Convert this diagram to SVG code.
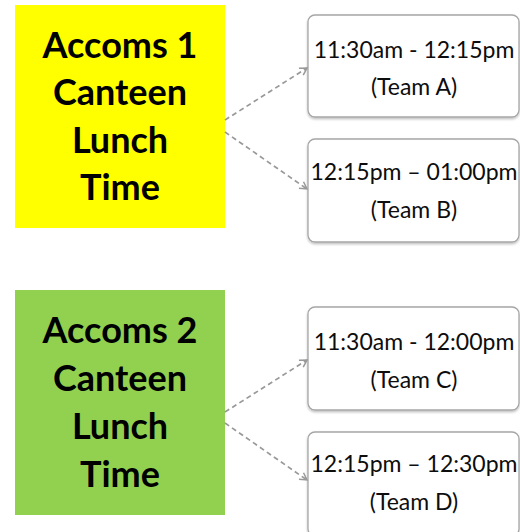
<svg xmlns="http://www.w3.org/2000/svg" width="520" height="532" viewBox="0 0 520 532">
<defs>
<marker id="arr" markerWidth="10" markerHeight="10" refX="8" refY="5" orient="auto" markerUnits="userSpaceOnUse">
<path d="M1,1 L8,5 L1,9" fill="none" stroke="#999" stroke-width="1.5"/>
</marker>
<filter id="sh" x="-5%" y="-5%" width="110%" height="115%">
<feDropShadow dx="0" dy="1.5" stdDeviation="1" flood-color="#000" flood-opacity="0.25"/>
</filter>
</defs>
<style>
.big{font-family:Lato,"Liberation Sans",sans-serif;font-weight:bold;font-size:36px;fill:#000;text-anchor:middle}
.t{font-family:Lato,"Liberation Sans",sans-serif;font-size:23px;fill:#0d0d0d;text-anchor:middle}
.box{fill:#fff;stroke:#a6a6a6;stroke-width:1.3;filter:url(#sh)}
.c{fill:none;stroke:#999;stroke-width:1.7;stroke-dasharray:5,3.5;marker-end:url(#arr)}
</style>
<rect width="520" height="532" fill="#fff"/>
<g id="accoms1">
<rect x="15" y="5" width="210" height="223" fill="#ffff00"/>
<text class="big" x="120" y="58">Accoms 1</text>
<text class="big" x="120" y="105">Canteen</text>
<text class="big" x="120" y="153">Lunch</text>
<text class="big" x="120" y="200">Time</text>
</g>
<g id="accoms2">
<rect x="15" y="290" width="210" height="225" fill="#92d050"/>
<text class="big" x="120" y="343">Accoms 2</text>
<text class="big" x="120" y="391">Canteen</text>
<text class="big" x="120" y="439">Lunch</text>
<text class="big" x="120" y="487">Time</text>
</g>
<g id="teamA">
<rect class="box" x="308" y="15" width="211" height="102" rx="7"/>
<text class="t" x="414" y="58">11:30am - 12:15pm</text>
<text class="t" x="414" y="95">(Team A)</text>
</g>
<g id="teamB">
<rect class="box" x="308" y="139" width="211" height="103" rx="7"/>
<text class="t" x="414" y="180">12:15pm – 01:00pm</text>
<text class="t" x="414" y="218">(Team B)</text>
</g>
<g id="teamC">
<rect class="box" x="308" y="307" width="211" height="103" rx="7"/>
<text class="t" x="414" y="350">11:30am - 12:00pm</text>
<text class="t" x="414" y="388">(Team C)</text>
</g>
<g id="teamD">
<rect class="box" x="308" y="432" width="211" height="104" rx="7"/>
<text class="t" x="414" y="472">12:15pm – 12:30pm</text>
<text class="t" x="414" y="510">(Team D)</text>
</g>
<g id="connectors">
<line class="c" x1="225" y1="120" x2="307" y2="68"/>
<line class="c" x1="225" y1="132" x2="307" y2="189"/>
<line class="c" x1="225" y1="412" x2="307" y2="360"/>
<line class="c" x1="225" y1="423" x2="307" y2="480"/>
</g>
</svg>
